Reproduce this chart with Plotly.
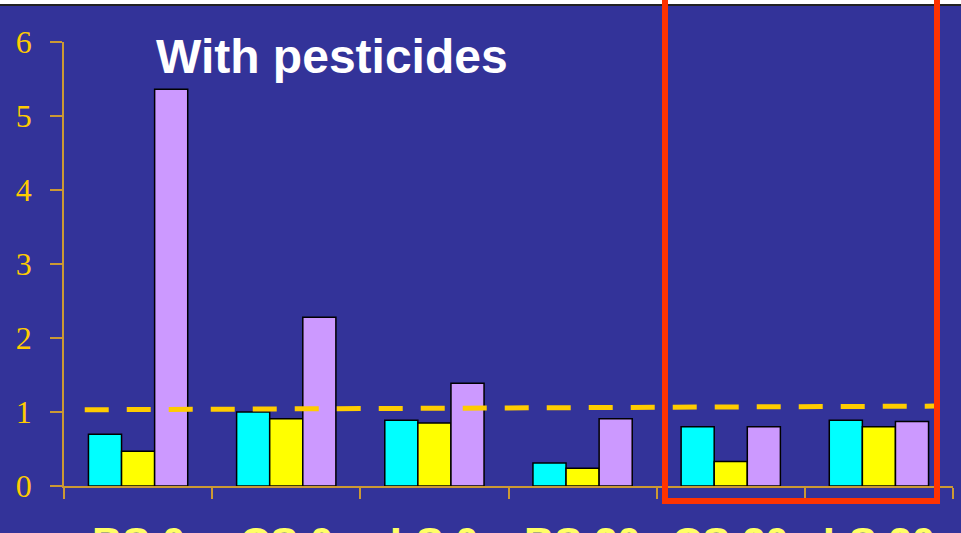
import plotly.graph_objects as go

categories = ["BS 0", "CS 0", "LS 0", "BS 20", "CS 20", "LS 20"]
series_names = ["Series A", "Series B", "Series C"]
cyan_vals = [0.70, 1.00, 0.89, 0.31, 0.80, 0.89]
yellow_vals = [0.47, 0.91, 0.85, 0.24, 0.33, 0.80]
purple_vals = [5.36, 2.28, 1.39, 0.91, 0.80, 0.87]
ref_x = [-0.36, 5.38]
ref_y = [1.03, 1.08]
y_ticks = [0, 1, 2, 3, 4, 5, 6]

BG = "#333399"
colors = ["#00FFFF", "#FFFF00", "#CC99FF"]

fig = go.Figure()
for name, vals, col in zip(series_names, [cyan_vals, yellow_vals, purple_vals], colors):
    fig.add_trace(go.Bar(x=categories, y=vals, name=name, marker=dict(color=col, line=dict(color="#000000", width=1.5))))

fig.add_trace(go.Scatter(x=ref_x, y=ref_y, mode="lines", xaxis="x2",
                         line=dict(color="#FFCC00", width=5, dash="24px,18px"), showlegend=False))

W, H = 961, 533
L, R, T, B = 64, 8, 42, 47
pw, ph = W - L - R, H - T - B

def px(x):
    return (x - L) / pw

def py(y):
    return (H - B - y) / ph

fig.update_layout(
    width=W, height=H,
    margin=dict(l=L, r=R, t=T, b=B, pad=0, autoexpand=False),
    paper_bgcolor=BG, plot_bgcolor=BG,
    barmode="group", bargap=0.33, bargroupgap=0,
    showlegend=False,
    xaxis=dict(type="category", range=[-0.5, 5.5], tickson="boundaries", ticks="outside", ticklen=11,
               tickcolor="#CC9933", tickwidth=1.5, showline=True, linecolor="#CC9933", linewidth=1.5,
               showgrid=False, zeroline=False, automargin=False, showticklabels=False),
    xaxis2=dict(overlaying="x", range=[-0.5, 5.5], visible=False),
    yaxis=dict(range=[0, 6], tickvals=y_ticks, ticks="outside", ticklen=12, tickcolor="#CC9933",
               tickwidth=1.5, showline=True, linecolor="#CC9933", linewidth=1.5, showgrid=False,
               zeroline=False, automargin=False,
               tickfont=dict(family="Liberation Serif, Times New Roman", size=32, color="#FFCC00"),
               ticklabelstandoff=12),
    font=dict(family="Liberation Sans, Arial"),
)

# category labels (cut off by the bottom edge, as in the reference)
for cat in categories:
    fig.add_annotation(text="<b>" + cat + "</b>", xref="x", yref="paper", x=cat, y=py(542),
                       xanchor="center", yanchor="middle", showarrow=False,
                       font=dict(family="Liberation Sans, Arial", size=42, color="#FFFF66"))

fig.add_annotation(text="<b>With pesticides</b>", xref="paper", yref="paper", x=px(154), y=py(57),
                   xanchor="left", yanchor="middle", showarrow=False,
                   font=dict(family="Liberation Sans, Arial", size=48, color="#FFFFFF"))
fig.add_annotation(text="<b>Relative abundance</b>", xref="paper", yref="paper", x=px(-16), y=py(245),
                   xanchor="center", yanchor="middle", textangle=-90, showarrow=False,
                   font=dict(family="Liberation Sans, Arial", size=30, color="#E6C45A"))

# white strip and black rule at top
fig.add_shape(type="rect", xref="paper", yref="paper", x0=px(-5), x1=px(970), y0=py(4), y1=py(-5),
              fillcolor="#FFFFFF", line=dict(width=0), layer="above")
fig.add_shape(type="line", xref="paper", yref="paper", x0=px(-5), x1=px(970), y0=py(5), y1=py(5),
              line=dict(color="#222222", width=2), layer="above")
# red highlight box
fig.add_shape(type="rect", xref="paper", yref="paper", x0=px(665), x1=px(937), y0=py(501), y1=py(-20),
              line=dict(color="#FF3300", width=6), fillcolor="rgba(0,0,0,0)", layer="above")

fig.write_html("out.html", config={"displayModeBar": False},
               post_script="document.body.style.margin='0';document.body.style.overflow='hidden';")
